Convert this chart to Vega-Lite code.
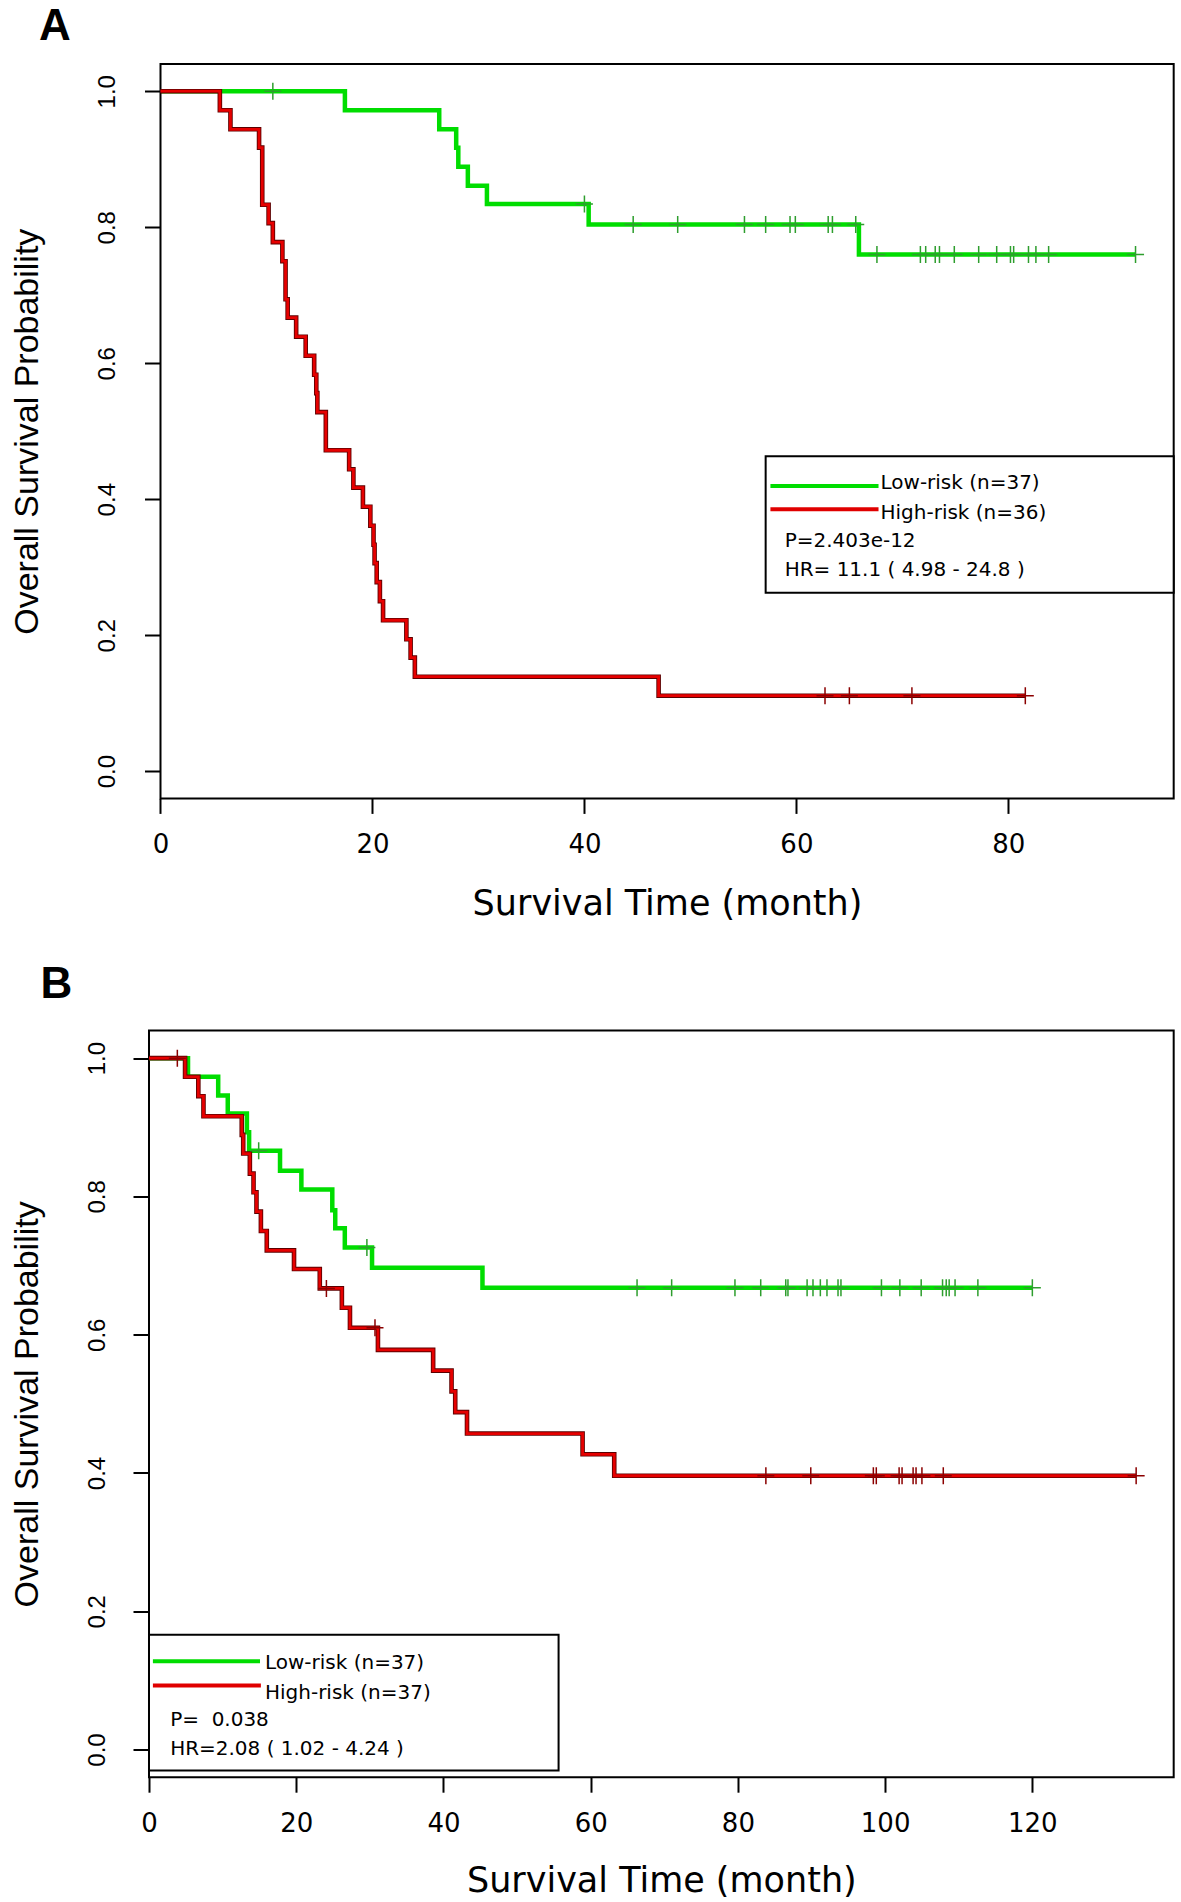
{
"$schema":"https://vega.github.io/schema/vega-lite/v6.json",
"background":"white",
"padding":{"left":9,"top":4,"right":0,"bottom":0},
"spacing":40.5,
"config":{"view":{"stroke":"black","strokeWidth":2},"axis":{"grid":false,"domain":false,"ticks":true,"tickColor":"black","tickWidth":2,"labelColor":"black","titleColor":"black","titleFontWeight":"normal"}},
"datasets":{
"curves":[
{"panel":"A","group":"Low-risk","time":0,"surv":1},{"panel":"A","group":"Low-risk","time":17.4,"surv":0.972},{"panel":"A","group":"Low-risk","time":26.3,"surv":0.944},{"panel":"A","group":"Low-risk","time":27.9,"surv":0.917},{"panel":"A","group":"Low-risk","time":28.1,"surv":0.889},{"panel":"A","group":"Low-risk","time":29.0,"surv":0.861},{"panel":"A","group":"Low-risk","time":30.8,"surv":0.834},{"panel":"A","group":"Low-risk","time":40.4,"surv":0.804},{"panel":"A","group":"Low-risk","time":65.9,"surv":0.760},{"panel":"A","group":"Low-risk","time":92.0,"surv":0.760},
{"panel":"A","group":"High-risk","time":0,"surv":1},{"panel":"A","group":"High-risk","time":5.6,"surv":0.972},{"panel":"A","group":"High-risk","time":6.6,"surv":0.944},{"panel":"A","group":"High-risk","time":9.3,"surv":0.917},{"panel":"A","group":"High-risk","time":9.6,"surv":0.833},{"panel":"A","group":"High-risk","time":10.2,"surv":0.806},{"panel":"A","group":"High-risk","time":10.6,"surv":0.778},{"panel":"A","group":"High-risk","time":11.5,"surv":0.75},{"panel":"A","group":"High-risk","time":11.8,"surv":0.694},{"panel":"A","group":"High-risk","time":12.0,"surv":0.667},{"panel":"A","group":"High-risk","time":12.8,"surv":0.639},{"panel":"A","group":"High-risk","time":13.7,"surv":0.611},{"panel":"A","group":"High-risk","time":14.5,"surv":0.583},{"panel":"A","group":"High-risk","time":14.7,"surv":0.556},{"panel":"A","group":"High-risk","time":14.8,"surv":0.528},{"panel":"A","group":"High-risk","time":15.6,"surv":0.472},{"panel":"A","group":"High-risk","time":17.8,"surv":0.444},{"panel":"A","group":"High-risk","time":18.2,"surv":0.417},{"panel":"A","group":"High-risk","time":19.1,"surv":0.389},{"panel":"A","group":"High-risk","time":19.8,"surv":0.361},{"panel":"A","group":"High-risk","time":20.1,"surv":0.333},{"panel":"A","group":"High-risk","time":20.2,"surv":0.306},{"panel":"A","group":"High-risk","time":20.4,"surv":0.278},{"panel":"A","group":"High-risk","time":20.7,"surv":0.25},{"panel":"A","group":"High-risk","time":21.0,"surv":0.222},{"panel":"A","group":"High-risk","time":23.2,"surv":0.194},{"panel":"A","group":"High-risk","time":23.6,"surv":0.167},{"panel":"A","group":"High-risk","time":24.0,"surv":0.139},{"panel":"A","group":"High-risk","time":47.0,"surv":0.111},{"panel":"A","group":"High-risk","time":81.6,"surv":0.111},
{"panel":"B","group":"Low-risk","time":0,"surv":1},{"panel":"B","group":"Low-risk","time":5.3,"surv":0.973},{"panel":"B","group":"Low-risk","time":9.4,"surv":0.946},{"panel":"B","group":"Low-risk","time":10.7,"surv":0.920},{"panel":"B","group":"Low-risk","time":13.3,"surv":0.893},{"panel":"B","group":"Low-risk","time":13.6,"surv":0.866},{"panel":"B","group":"Low-risk","time":17.8,"surv":0.837},{"panel":"B","group":"Low-risk","time":20.7,"surv":0.810},{"panel":"B","group":"Low-risk","time":24.9,"surv":0.780},{"panel":"B","group":"Low-risk","time":25.3,"surv":0.754},{"panel":"B","group":"Low-risk","time":26.6,"surv":0.726},{"panel":"B","group":"Low-risk","time":30.3,"surv":0.697},{"panel":"B","group":"Low-risk","time":45.3,"surv":0.668},{"panel":"B","group":"Low-risk","time":120.0,"surv":0.668},
{"panel":"B","group":"High-risk","time":0,"surv":1},{"panel":"B","group":"High-risk","time":4.9,"surv":0.973},{"panel":"B","group":"High-risk","time":6.7,"surv":0.945},{"panel":"B","group":"High-risk","time":7.4,"surv":0.916},{"panel":"B","group":"High-risk","time":12.6,"surv":0.889},{"panel":"B","group":"High-risk","time":12.8,"surv":0.862},{"panel":"B","group":"High-risk","time":13.7,"surv":0.833},{"panel":"B","group":"High-risk","time":14.2,"surv":0.806},{"panel":"B","group":"High-risk","time":14.6,"surv":0.778},{"panel":"B","group":"High-risk","time":15.2,"surv":0.750},{"panel":"B","group":"High-risk","time":16.0,"surv":0.722},{"panel":"B","group":"High-risk","time":19.7,"surv":0.695},{"panel":"B","group":"High-risk","time":23.2,"surv":0.667},{"panel":"B","group":"High-risk","time":26.2,"surv":0.639},{"panel":"B","group":"High-risk","time":27.3,"surv":0.610},{"panel":"B","group":"High-risk","time":31.1,"surv":0.578},{"panel":"B","group":"High-risk","time":38.6,"surv":0.548},{"panel":"B","group":"High-risk","time":41.1,"surv":0.518},{"panel":"B","group":"High-risk","time":41.6,"surv":0.488},{"panel":"B","group":"High-risk","time":43.2,"surv":0.457},{"panel":"B","group":"High-risk","time":58.9,"surv":0.427},{"panel":"B","group":"High-risk","time":63.2,"surv":0.396},{"panel":"B","group":"High-risk","time":134.1,"surv":0.396}
],
"censors":[
{"panel":"A","group":"Low-risk","time":10.6,"surv":1},{"panel":"A","group":"Low-risk","time":40.0,"surv":0.834},
{"panel":"A","group":"Low-risk","time":44.6,"surv":0.804},{"panel":"A","group":"Low-risk","time":48.8,"surv":0.804},{"panel":"A","group":"Low-risk","time":55.1,"surv":0.804},{"panel":"A","group":"Low-risk","time":57.1,"surv":0.804},{"panel":"A","group":"Low-risk","time":59.4,"surv":0.804},{"panel":"A","group":"Low-risk","time":59.9,"surv":0.804},{"panel":"A","group":"Low-risk","time":63.0,"surv":0.804},{"panel":"A","group":"Low-risk","time":63.4,"surv":0.804},{"panel":"A","group":"Low-risk","time":65.6,"surv":0.804},
{"panel":"A","group":"Low-risk","time":67.6,"surv":0.760},{"panel":"A","group":"Low-risk","time":71.7,"surv":0.760},{"panel":"A","group":"Low-risk","time":72.2,"surv":0.760},{"panel":"A","group":"Low-risk","time":73.1,"surv":0.760},{"panel":"A","group":"Low-risk","time":73.5,"surv":0.760},{"panel":"A","group":"Low-risk","time":74.9,"surv":0.760},{"panel":"A","group":"Low-risk","time":77.2,"surv":0.760},{"panel":"A","group":"Low-risk","time":78.9,"surv":0.760},{"panel":"A","group":"Low-risk","time":80.2,"surv":0.760},{"panel":"A","group":"Low-risk","time":80.5,"surv":0.760},{"panel":"A","group":"Low-risk","time":81.9,"surv":0.760},{"panel":"A","group":"Low-risk","time":82.6,"surv":0.760},{"panel":"A","group":"Low-risk","time":83.8,"surv":0.760},{"panel":"A","group":"Low-risk","time":92.0,"surv":0.760},
{"panel":"A","group":"High-risk","time":62.7,"surv":0.111},{"panel":"A","group":"High-risk","time":65.0,"surv":0.111},{"panel":"A","group":"High-risk","time":70.9,"surv":0.111},{"panel":"A","group":"High-risk","time":81.6,"surv":0.111},
{"panel":"B","group":"Low-risk","time":14.9,"surv":0.866},{"panel":"B","group":"Low-risk","time":29.6,"surv":0.726},
{"panel":"B","group":"Low-risk","time":66.3,"surv":0.668},{"panel":"B","group":"Low-risk","time":71.0,"surv":0.668},{"panel":"B","group":"Low-risk","time":79.6,"surv":0.668},{"panel":"B","group":"Low-risk","time":83.1,"surv":0.668},{"panel":"B","group":"Low-risk","time":86.5,"surv":0.668},{"panel":"B","group":"Low-risk","time":86.8,"surv":0.668},{"panel":"B","group":"Low-risk","time":89.4,"surv":0.668},{"panel":"B","group":"Low-risk","time":90.2,"surv":0.668},{"panel":"B","group":"Low-risk","time":91.2,"surv":0.668},{"panel":"B","group":"Low-risk","time":92.1,"surv":0.668},{"panel":"B","group":"Low-risk","time":93.6,"surv":0.668},{"panel":"B","group":"Low-risk","time":94.0,"surv":0.668},{"panel":"B","group":"Low-risk","time":99.5,"surv":0.668},{"panel":"B","group":"Low-risk","time":102.0,"surv":0.668},{"panel":"B","group":"Low-risk","time":104.9,"surv":0.668},{"panel":"B","group":"Low-risk","time":107.8,"surv":0.668},{"panel":"B","group":"Low-risk","time":108.3,"surv":0.668},{"panel":"B","group":"Low-risk","time":108.7,"surv":0.668},{"panel":"B","group":"Low-risk","time":109.5,"surv":0.668},{"panel":"B","group":"Low-risk","time":112.6,"surv":0.668},{"panel":"B","group":"Low-risk","time":120.0,"surv":0.668},
{"panel":"B","group":"High-risk","time":3.85,"surv":1},{"panel":"B","group":"High-risk","time":24.1,"surv":0.667},{"panel":"B","group":"High-risk","time":30.7,"surv":0.610},
{"panel":"B","group":"High-risk","time":83.8,"surv":0.396},{"panel":"B","group":"High-risk","time":89.9,"surv":0.396},{"panel":"B","group":"High-risk","time":98.4,"surv":0.396},{"panel":"B","group":"High-risk","time":98.8,"surv":0.396},{"panel":"B","group":"High-risk","time":101.9,"surv":0.396},{"panel":"B","group":"High-risk","time":102.3,"surv":0.396},{"panel":"B","group":"High-risk","time":103.8,"surv":0.396},{"panel":"B","group":"High-risk","time":104.2,"surv":0.396},{"panel":"B","group":"High-risk","time":105.0,"surv":0.396},{"panel":"B","group":"High-risk","time":107.9,"surv":0.396},{"panel":"B","group":"High-risk","time":134.1,"surv":0.396}
],
"legend":[
{"panel":"A","key":"low","label":"Low-risk (n=37)"},{"panel":"A","key":"high","label":"High-risk (n=36)"},{"panel":"A","key":"p","label":"P=2.403e-12"},{"panel":"A","key":"hr","label":"HR= 11.1 ( 4.98 - 24.8 )"},
{"panel":"B","key":"low","label":"Low-risk (n=37)"},{"panel":"B","key":"high","label":"High-risk (n=37)"},{"panel":"B","key":"p","label":"P=\u00a0 0.038"},{"panel":"B","key":"hr","label":"HR=2.08 ( 1.02 - 4.24 )"}
]
},
"vconcat":[
{
"width":1024.7,"height":734.4,
"view":{"stroke":null},
"title":{"text":"A","anchor":"start","frame":"group","dx":-109.9,"offset":-20.7,"font":"Liberation Sans","fontSize":44,"fontWeight":"bold","baseline":"alphabetic","align":"left","color":"black"},
"layer":[
{"data":{"name":"curves"},"transform":[{"filter":"datum.panel === 'A' && datum.group === 'Low-risk'"}],
"mark":{"type":"line","interpolate":"step-after","color":"#00DD00","strokeWidth":4.5},
"encoding":{
"x":{"field":"time","type":"quantitative","scale":{"domain":[-1.085,95.6],"nice":false,"zero":false},
"axis":{"values":[0,20,40,60,80],"title":"Survival Time (month)","tickSize":15,"labelFont":"DejaVu Sans","labelFontSize":26,"labelPadding":18,"labelBaseline":"top","labelFlush":false,"labelOverlap":false,"titleFont":"DejaVu Sans","titleFontSize":35,"titleBaseline":"alphabetic","titleX":518,"titleY":116.5}},
"y":{"field":"surv","type":"quantitative","scale":{"domain":[-0.04,1.04],"nice":false,"zero":false},
"axis":{"offset":-11.5,"values":[0,0.2,0.4,0.6,0.8,1],"format":".1f","title":"Overall Survival Probability","tickSize":16,"labelAngle":270,"labelAlign":"center","labelBaseline":"alphabetic","labelFont":"Liberation Sans","labelFontSize":24,"labelPadding":30,"labelFlush":false,"labelOverlap":false,"titleFont":"Liberation Sans","titleFontSize":34,"titleAngle":270,"titleAlign":"center","titleBaseline":"middle","titleX":-132.8,"titleY":367.2}}}},
{"data":{"name":"legend"},"transform":[{"filter":"datum.panel === 'A' && datum.key === 'low'"}],
"mark":{"type":"rect","filled":false,"stroke":"black","strokeWidth":2},
"encoding":{"x":{"datum":0,"type":"quantitative","scale":{"domain":[-1.085,95.6],"nice":false,"zero":false}},"x2":{"datum":95.6},"y":{"datum":-0.04,"type":"quantitative","scale":{"domain":[-0.04,1.04],"nice":false,"zero":false}},"y2":{"datum":1.04}}},
{"data":{"name":"curves"},"transform":[{"filter":"datum.panel === 'A' && datum.group === 'High-risk'"}],
"mark":{"type":"line","interpolate":"step-after","color":"#5C0000","strokeWidth":4.6},
"encoding":{"x":{"field":"time","type":"quantitative","scale":{"domain":[-1.085,95.6],"nice":false,"zero":false}},"y":{"field":"surv","type":"quantitative","scale":{"domain":[-0.04,1.04],"nice":false,"zero":false}}}},
{"data":{"name":"curves"},"transform":[{"filter":"datum.panel === 'A' && datum.group === 'High-risk'"}],
"mark":{"type":"line","interpolate":"step-after","color":"#E60000","strokeWidth":2.8},
"encoding":{"x":{"field":"time","type":"quantitative","scale":{"domain":[-1.085,95.6],"nice":false,"zero":false}},"y":{"field":"surv","type":"quantitative","scale":{"domain":[-0.04,1.04],"nice":false,"zero":false}}}},
{"data":{"name":"censors"},"transform":[{"filter":"datum.panel === 'A' && datum.group === 'Low-risk'"}],
"mark":{"type":"point","shape":"M-1,0H1M0,-1V1","size":289,"filled":false,"strokeWidth":1.5,"color":"#2E9E2E","opacity":1},
"encoding":{"x":{"field":"time","type":"quantitative","scale":{"domain":[-1.085,95.6],"nice":false,"zero":false}},"y":{"field":"surv","type":"quantitative","scale":{"domain":[-0.04,1.04],"nice":false,"zero":false}}}},
{"data":{"name":"censors"},"transform":[{"filter":"datum.panel === 'A' && datum.group === 'High-risk'"}],
"mark":{"type":"point","shape":"M-1,0H1M0,-1V1","size":289,"filled":false,"strokeWidth":1.5,"color":"#8B0000","opacity":1},
"encoding":{"x":{"field":"time","type":"quantitative","scale":{"domain":[-1.085,95.6],"nice":false,"zero":false}},"y":{"field":"surv","type":"quantitative","scale":{"domain":[-0.04,1.04],"nice":false,"zero":false}}}},
{"data":{"name":"legend"},"transform":[{"filter":"datum.panel === 'A' && datum.key === 'low'"}],
"mark":{"type":"rect","fill":"white","stroke":"black","strokeWidth":2},
"encoding":{"x":{"datum":57.1,"type":"quantitative"},"x2":{"datum":95.6},"y":{"datum":0.4631,"type":"quantitative"},"y2":{"datum":0.2624}}},
{"data":{"name":"legend"},"transform":[{"filter":"datum.panel === 'A' && datum.key === 'low'"}],
"mark":{"type":"rule","color":"#00DD00","strokeWidth":4},
"encoding":{"x":{"datum":57.55,"type":"quantitative"},"x2":{"datum":67.75},"y":{"datum":0.4194,"type":"quantitative"}}},
{"data":{"name":"legend"},"transform":[{"filter":"datum.panel === 'A' && datum.key === 'high'"}],
"mark":{"type":"rule","color":"#E00000","strokeWidth":4},
"encoding":{"x":{"datum":57.55,"type":"quantitative"},"x2":{"datum":67.75},"y":{"datum":0.3851,"type":"quantitative"}}},
{"data":{"name":"legend"},"transform":[{"filter":"datum.panel === 'A' && datum.key === 'low'"}],
"mark":{"type":"text","align":"left","baseline":"alphabetic","font":"DejaVu Sans","fontSize":20,"color":"black"},
"encoding":{"x":{"datum":67.94,"type":"quantitative"},"y":{"datum":0.415,"type":"quantitative"},"text":{"field":"label"}}},
{"data":{"name":"legend"},"transform":[{"filter":"datum.panel === 'A' && datum.key === 'high'"}],
"mark":{"type":"text","align":"left","baseline":"alphabetic","font":"DejaVu Sans","fontSize":20,"color":"black"},
"encoding":{"x":{"datum":67.94,"type":"quantitative"},"y":{"datum":0.371,"type":"quantitative"},"text":{"field":"label"}}},
{"data":{"name":"legend"},"transform":[{"filter":"datum.panel === 'A' && datum.key === 'p'"}],
"mark":{"type":"text","align":"left","baseline":"alphabetic","font":"DejaVu Sans","fontSize":20,"color":"black"},
"encoding":{"x":{"datum":58.89,"type":"quantitative"},"y":{"datum":0.3297,"type":"quantitative"},"text":{"field":"label"}}},
{"data":{"name":"legend"},"transform":[{"filter":"datum.panel === 'A' && datum.key === 'hr'"}],
"mark":{"type":"text","align":"left","baseline":"alphabetic","font":"DejaVu Sans","fontSize":20,"color":"black"},
"encoding":{"x":{"datum":58.89,"type":"quantitative"},"y":{"datum":0.287,"type":"quantitative"},"text":{"field":"label"}}}
]
},
{
"width":1024.7,"height":746.7,
"title":{"text":"B","anchor":"start","frame":"group","dx":-108.6,"offset":-12,"font":"Liberation Sans","fontSize":44,"fontWeight":"bold","baseline":"alphabetic","align":"left","color":"black"},
"layer":[
{"data":{"name":"curves"},"transform":[{"filter":"datum.panel === 'B' && datum.group === 'Low-risk'"}],
"mark":{"type":"line","interpolate":"step-after","color":"#00DD00","strokeWidth":4.5},
"encoding":{
"x":{"field":"time","type":"quantitative","scale":{"domain":[0,139.2],"nice":false,"zero":false},
"axis":{"values":[0,20,40,60,80,100,120],"title":"Survival Time (month)","tickSize":15,"labelFont":"DejaVu Sans","labelFontSize":26,"labelPadding":18,"labelBaseline":"top","labelFlush":false,"labelOverlap":false,"titleFont":"DejaVu Sans","titleFontSize":35,"titleBaseline":"alphabetic","titleY":114}},
"y":{"field":"surv","type":"quantitative","scale":{"domain":[-0.04,1.04],"nice":false,"zero":false},
"axis":{"values":[0,0.2,0.4,0.6,0.8,1],"format":".1f","title":"Overall Survival Probability","tickSize":16,"labelAngle":270,"labelAlign":"center","labelBaseline":"alphabetic","labelFont":"Liberation Sans","labelFontSize":24,"labelPadding":28,"labelFlush":false,"labelOverlap":false,"titleFont":"Liberation Sans","titleFontSize":34,"titleAngle":270,"titleAlign":"center","titleBaseline":"middle","titleX":-121.3,"titleY":373.35}}}},
{"data":{"name":"curves"},"transform":[{"filter":"datum.panel === 'B' && datum.group === 'High-risk'"}],
"mark":{"type":"line","interpolate":"step-after","color":"#5C0000","strokeWidth":4.6},
"encoding":{"x":{"field":"time","type":"quantitative","scale":{"domain":[0,139.2],"nice":false,"zero":false}},"y":{"field":"surv","type":"quantitative","scale":{"domain":[-0.04,1.04],"nice":false,"zero":false}}}},
{"data":{"name":"curves"},"transform":[{"filter":"datum.panel === 'B' && datum.group === 'High-risk'"}],
"mark":{"type":"line","interpolate":"step-after","color":"#E60000","strokeWidth":2.8},
"encoding":{"x":{"field":"time","type":"quantitative","scale":{"domain":[0,139.2],"nice":false,"zero":false}},"y":{"field":"surv","type":"quantitative","scale":{"domain":[-0.04,1.04],"nice":false,"zero":false}}}},
{"data":{"name":"censors"},"transform":[{"filter":"datum.panel === 'B' && datum.group === 'Low-risk'"}],
"mark":{"type":"point","shape":"M-1,0H1M0,-1V1","size":289,"filled":false,"strokeWidth":1.5,"color":"#2E9E2E","opacity":1},
"encoding":{"x":{"field":"time","type":"quantitative","scale":{"domain":[0,139.2],"nice":false,"zero":false}},"y":{"field":"surv","type":"quantitative","scale":{"domain":[-0.04,1.04],"nice":false,"zero":false}}}},
{"data":{"name":"censors"},"transform":[{"filter":"datum.panel === 'B' && datum.group === 'High-risk'"}],
"mark":{"type":"point","shape":"M-1,0H1M0,-1V1","size":289,"filled":false,"strokeWidth":1.5,"color":"#8B0000","opacity":1},
"encoding":{"x":{"field":"time","type":"quantitative","scale":{"domain":[0,139.2],"nice":false,"zero":false}},"y":{"field":"surv","type":"quantitative","scale":{"domain":[-0.04,1.04],"nice":false,"zero":false}}}},
{"data":{"name":"legend"},"transform":[{"filter":"datum.panel === 'B' && datum.key === 'low'"}],
"mark":{"type":"rect","fill":"white","stroke":"black","strokeWidth":2},
"encoding":{"x":{"datum":0,"type":"quantitative"},"x2":{"datum":55.64},"y":{"datum":0.1659,"type":"quantitative"},"y2":{"datum":-0.0304}}},
{"data":{"name":"legend"},"transform":[{"filter":"datum.panel === 'B' && datum.key === 'low'"}],
"mark":{"type":"rule","color":"#00DD00","strokeWidth":4},
"encoding":{"x":{"datum":0.53,"type":"quantitative"},"x2":{"datum":15.08},"y":{"datum":0.1277,"type":"quantitative"}}},
{"data":{"name":"legend"},"transform":[{"filter":"datum.panel === 'B' && datum.key === 'high'"}],
"mark":{"type":"rule","color":"#E00000","strokeWidth":4},
"encoding":{"x":{"datum":0.53,"type":"quantitative"},"x2":{"datum":15.2},"y":{"datum":0.0926,"type":"quantitative"}}},
{"data":{"name":"legend"},"transform":[{"filter":"datum.panel === 'B' && datum.key === 'low'"}],
"mark":{"type":"text","align":"left","baseline":"alphabetic","font":"DejaVu Sans","fontSize":20,"color":"black"},
"encoding":{"x":{"datum":15.76,"type":"quantitative"},"y":{"datum":0.1167,"type":"quantitative"},"text":{"field":"label"}}},
{"data":{"name":"legend"},"transform":[{"filter":"datum.panel === 'B' && datum.key === 'high'"}],
"mark":{"type":"text","align":"left","baseline":"alphabetic","font":"DejaVu Sans","fontSize":20,"color":"black"},
"encoding":{"x":{"datum":15.76,"type":"quantitative"},"y":{"datum":0.0733,"type":"quantitative"},"text":{"field":"label"}}},
{"data":{"name":"legend"},"transform":[{"filter":"datum.panel === 'B' && datum.key === 'p'"}],
"mark":{"type":"text","align":"left","baseline":"alphabetic","font":"DejaVu Sans","fontSize":20,"color":"black"},
"encoding":{"x":{"datum":2.87,"type":"quantitative"},"y":{"datum":0.0347,"type":"quantitative"},"text":{"field":"label"}}},
{"data":{"name":"legend"},"transform":[{"filter":"datum.panel === 'B' && datum.key === 'hr'"}],
"mark":{"type":"text","align":"left","baseline":"alphabetic","font":"DejaVu Sans","fontSize":20,"color":"black"},
"encoding":{"x":{"datum":2.87,"type":"quantitative"},"y":{"datum":-0.0072,"type":"quantitative"},"text":{"field":"label"}}}
]
}
]
}
